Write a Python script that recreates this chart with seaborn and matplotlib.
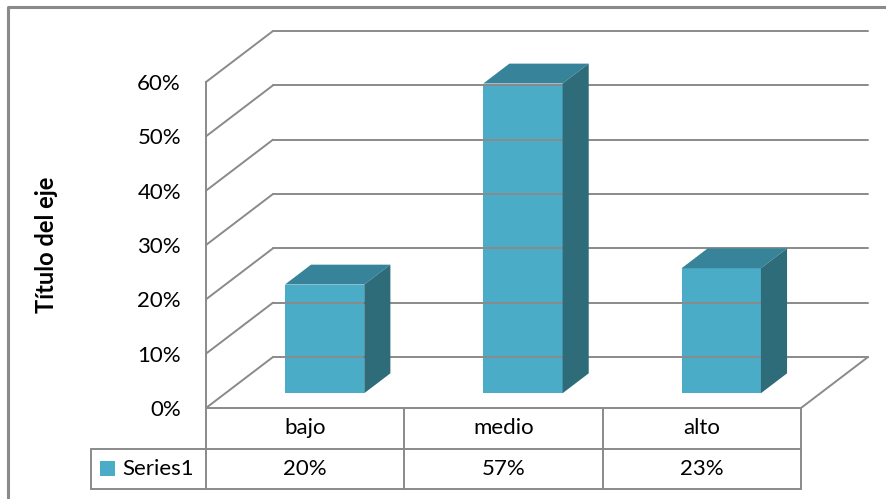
import numpy as np
import matplotlib
matplotlib.use("Agg")
import matplotlib.pyplot as plt
import seaborn as sns
from matplotlib.patches import Polygon, Rectangle
from matplotlib.lines import Line2D
from matplotlib.ticker import PercentFormatter
from matplotlib.transforms import ScaledTranslation, IdentityTransform, blended_transform_factory

# Data
categories = ["bajo", "medio", "alto"]
values = [0.20, 0.57, 0.23]
value_labels = ["20%", "57%", "23%"]
series_name = "Series1"
y_ticks = [0.0, 0.1, 0.2, 0.3, 0.4, 0.5, 0.6]
axis_title = "Título del eje"

# Style
FRONT = "#4aacc6"
TOP = "#37849a"
SIDE = "#2f6c7a"
GRID = "#8a8a8a"
FONT = ["Lato", "DejaVu Sans"]
FS = 16

sns.set_theme(style="white")
plt.rcParams["font.family"] = FONT

DPI = 100
W, H = 886, 499
fig = plt.figure(figsize=(W / DPI, H / DPI), dpi=DPI)
fig.patch.set_facecolor("white")

# front plane of the 3-D box
ax = fig.add_axes([206 / W, (H - 408) / H, 595 / W, 326 / H])
ax.set_facecolor("none")

# depth vector of the box (pixels) and bar placement inside it
DEPTH = np.array([67.0, 51.0])
BAR_FRONT = 0.29
BAR_BACK = 0.68

sns.barplot(x=categories, y=values, width=0.4, color=FRONT, saturation=1,
            linewidth=0, ax=ax, zorder=4)
ax.set_xlim(-0.5, 2.5)
ax.set_ylim(0, 0.6)

off_front = DEPTH * BAR_FRONT
off_back = DEPTH * BAR_BACK
for p in ax.patches:
    p.set_transform(ax.transData + ScaledTranslation(off_front[0] / DPI, off_front[1] / DPI,
                                                     fig.dpi_scale_trans))
    p.set_clip_on(False)
    x0 = p.get_x()
    x1 = x0 + p.get_width()
    h = p.get_height()
    (fl, ft), (fr, _), (_, fb) = ax.transData.transform([(x0, h), (x1, h), (x1, 0)])
    top = [(fl + off_front[0], ft + off_front[1]), (fr + off_front[0], ft + off_front[1]),
           (fr + off_back[0], ft + off_back[1]), (fl + off_back[0], ft + off_back[1])]
    side = [(fr + off_front[0], ft + off_front[1]), (fr + off_back[0], ft + off_back[1]),
            (fr + off_back[0], fb + off_back[1]), (fr + off_front[0], fb + off_front[1])]
    for verts, c in ((top, TOP), (side, SIDE)):
        fig.add_artist(Polygon(verts, closed=True, facecolor=c, edgecolor="none",
                               transform=IdentityTransform(), zorder=4))

# walls: back-wall gridlines, side-wall diagonals, floor edge
lw = 1.4
for yv in y_ticks:
    (lx, ly), (rx, ry) = ax.transData.transform([(-0.5, yv), (2.5, yv)])
    fig.add_artist(Line2D([lx + DEPTH[0], rx + DEPTH[0]], [ly + DEPTH[1], ry + DEPTH[1]],
                          color=GRID, lw=lw, transform=IdentityTransform(), zorder=1))
    fig.add_artist(Line2D([lx, lx + DEPTH[0]], [ly, ly + DEPTH[1]],
                          color=GRID, lw=lw, transform=IdentityTransform(), zorder=1))
(fx, fy) = ax.transData.transform((2.5, 0))
fig.add_artist(Line2D([fx, fx + DEPTH[0]], [fy, fy + DEPTH[1]],
                      color=GRID, lw=lw, transform=IdentityTransform(), zorder=1))

# axes styling
for s in ("top", "right"):
    ax.spines[s].set_visible(False)
for s in ("left", "bottom"):
    ax.spines[s].set_color(GRID)
    ax.spines[s].set_linewidth(lw)
ax.set_yticks(y_ticks)
ax.yaxis.set_major_formatter(PercentFormatter(1, decimals=0))
ax.tick_params(axis="y", length=0, pad=18, labelsize=FS, labelcolor="black")
ax.tick_params(axis="x", length=0, labelbottom=False)
ax.set_xlabel("")
ax.set_ylabel(axis_title, fontsize=17, fontweight="bold", color="black")
ax.yaxis.set_label_coords(-0.249, 0.5)

# data table below the plot
tr = blended_transform_factory(ax.transData, ax.transAxes)
r1 = -41 / 326
r2 = -81 / 326
x_leg = -0.5 - 115 / 198.33
tbl = dict(color=GRID, lw=lw, transform=tr, clip_on=False, zorder=2)
for xe in (-0.5, 0.5, 1.5, 2.5):
    ax.add_line(Line2D([xe, xe], [0, r2], **tbl))
ax.add_line(Line2D([x_leg, 2.5], [r1, r1], **tbl))
ax.add_line(Line2D([x_leg, 2.5], [r2, r2], **tbl))
ax.add_line(Line2D([x_leg, x_leg], [r1, r2], **tbl))

for i, (cat, lab) in enumerate(zip(categories, value_labels)):
    ax.text(i, r1 / 2, cat, transform=tr, ha="center", va="center", fontsize=FS, color="black")
    ax.text(i, (r1 + r2) / 2, lab, transform=tr, ha="center", va="center", fontsize=FS,
            color="black")
ax.add_patch(Rectangle((-0.5 - 106 / 198.33, (408 - 476) / 326), 15 / 198.33, 15 / 326,
                       facecolor=FRONT, edgecolor="none", transform=tr, clip_on=False))
ax.text(-0.5 - 84 / 198.33, (r1 + r2) / 2, series_name, transform=tr, ha="left", va="center",
        fontsize=FS, color="black")

# chart area border
fig.add_artist(Line2D([8 / W, 8 / W, 1.0], [0.0, 1 - 7 / H, 1 - 7 / H],
                      color=GRID, lw=2.2, transform=fig.transFigure))

fig.savefig("out.png", dpi=DPI)
